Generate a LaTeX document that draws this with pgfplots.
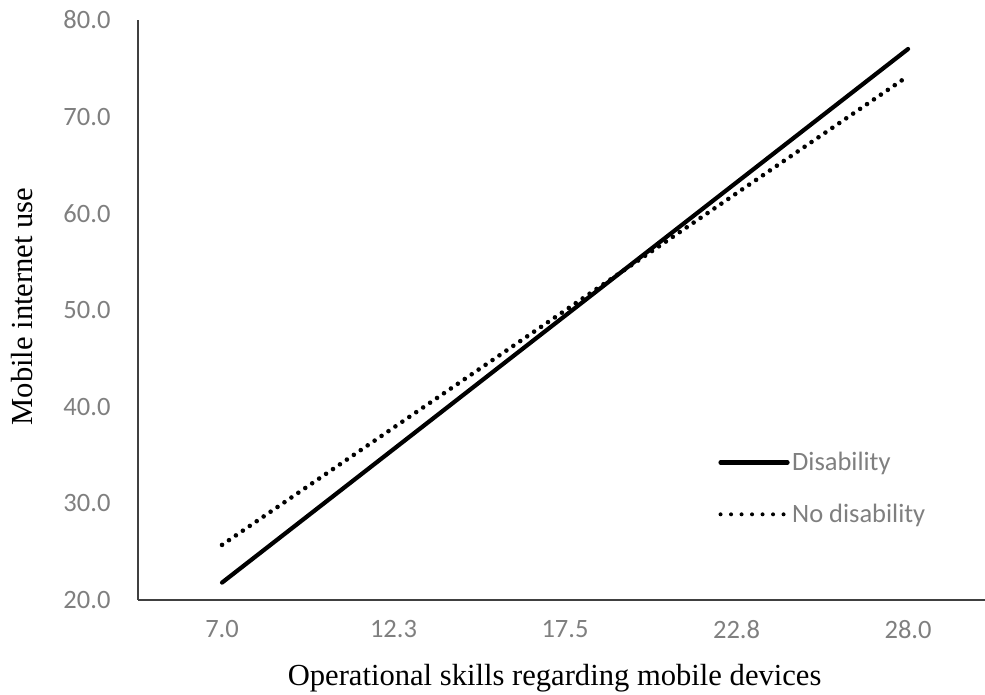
\documentclass[border=0pt]{standalone}
\usepackage{fontspec}
\setmainfont{Liberation Serif}
\newfontfamily\calibri{Carlito}
\usepackage{pgfplots}
\pgfplotsset{compat=1.18}
\definecolor{tickgray}{HTML}{7F7F7F}
\begin{document}
\begin{tikzpicture}[x=1pt,y=1pt]
\useasboundingbox (0,0) rectangle (985,695);
\begin{axis}[
  at={(138pt,95pt)}, anchor=south west,
  scale only axis, width=855.8pt, height=580pt,
  xmin=-0.49, xmax=4.5, ymin=20, ymax=80,
  axis x line*=bottom, axis y line*=left,
  axis line style={line width=1.6pt, color=black!75},
  xtick={0,1,2,3,4}, xticklabels={7.0,12.3,17.5,22.8,28.0},
  ytick={20,30,40,50,60,70,80}, yticklabels={20.0,30.0,40.0,50.0,60.0,70.0,80.0},
  major tick length=0pt,
  tick label style={font=\calibri\fontsize{26.5}{26.5}\selectfont, text=tickgray},
  yticklabel style={xshift=-24pt},
  xticklabel style={yshift=-17pt},
  xlabel={Operational skills regarding mobile devices},
  ylabel={Mobile internet use},
  label style={font=\fontsize{30.6}{30.6}\selectfont},
  xlabel style={at={(axis description cs:0.4868,-0.1466)}, anchor=base},
  ylabel style={at={(axis description cs:-0.1227,0.506)}, anchor=base},
  clip=false,
  legend style={at={(axis description cs:0.678,0.259)}, anchor=north west, draw=none, fill=none,
    font=\calibri\fontsize{26.5}{26.5}\selectfont, text=tickgray, row sep=27pt,
    inner sep=0pt, nodes={inner sep=2.5pt}},
  legend cell align=left,
  legend image code/.code={\draw[#1] (0pt,0pt) -- (67pt,0pt);},
]
\addplot[black, line width=4.2pt, line cap=round] coordinates {(0,21.8) (4,77.0)};
\addlegendentry{Disability}
\addplot[black, line width=4.6pt, line cap=round, dash pattern=on 0pt off 8.4pt,
  legend image code/.code={\draw[black, line width=4pt, line cap=round, dash pattern=on 0pt off 10.5pt] (0pt,0pt) -- (67pt,0pt);}]
  coordinates {(0,25.7) (4,74.2)};
\addlegendentry{No disability}
\end{axis}
\end{tikzpicture}
\end{document}
